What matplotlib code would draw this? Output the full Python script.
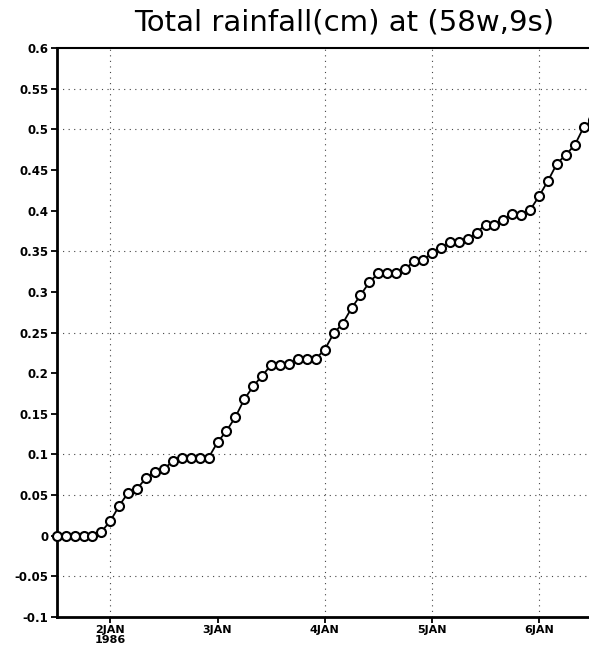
import matplotlib
matplotlib.use("Agg")
import matplotlib.pyplot as plt
import pandas as pd

# 2-hourly accumulated rainfall, starting 1 JAN 1986 12Z
start_time = "1986-01-01 12:00"
rain_cm = [
    0.0, 0.0, 0.0, 0.0, 0.0, 0.005, 0.018, 0.037, 0.053, 0.058,
    0.071, 0.079, 0.082, 0.092, 0.096, 0.096, 0.096, 0.096, 0.115, 0.129,
    0.146, 0.168, 0.184, 0.197, 0.210, 0.210, 0.211, 0.218, 0.218, 0.218,
    0.229, 0.249, 0.261, 0.280, 0.296, 0.312, 0.323, 0.323, 0.323, 0.328,
    0.338, 0.339, 0.348, 0.354, 0.361, 0.362, 0.365, 0.373, 0.383, 0.383,
    0.389, 0.396, 0.395, 0.401, 0.418, 0.437, 0.458, 0.469, 0.481, 0.503,
    0.512,
]
times = pd.date_range(start_time, periods=len(rain_cm), freq="2h")

day_ticks = ["1986-01-02", "1986-01-03", "1986-01-04", "1986-01-05", "1986-01-06"]
day_labels = ["2JAN\n1986", "3JAN", "4JAN", "5JAN", "6JAN"]
y_ticks = [-0.1, -0.05, 0, 0.05, 0.1, 0.15, 0.2, 0.25, 0.3, 0.35, 0.4, 0.45, 0.5, 0.55, 0.6]
y_labels = ["-0.1", "-0.05", "0", "0.05", "0.1", "0.15", "0.2", "0.25", "0.3",
            "0.35", "0.4", "0.45", "0.5", "0.55", "0.6"]
# dotted grid lines that show up in the picture
grid_y = [-0.05, 0.05, 0.1, 0.25, 0.35, 0.5, 0.55]
grid_days = ["1986-01-02", "1986-01-04", "1986-01-05", "1986-01-06"]

fig = plt.figure(figsize=(5.89, 6.56), dpi=100)
ax = fig.add_axes([0.0963, 0.0595, 0.910, 0.867])

for yv in grid_y:
    ax.axhline(yv, color="#444444", linewidth=0.8, linestyle=(0, (1, 4)), zorder=1)
for d in grid_days:
    ax.axvline(pd.Timestamp(d), color="#444444", linewidth=0.8, linestyle=(0, (1, 4)), zorder=1)

ax.plot(times, rain_cm, color="black", linewidth=1.3, marker="o", markersize=6.5,
        markerfacecolor="white", markeredgecolor="black", markeredgewidth=1.5,
        zorder=3, clip_on=False)

ax.set_xlim(pd.Timestamp("1986-01-01 12:00"), pd.Timestamp("1986-01-06 12:00"))
ax.set_ylim(-0.1, 0.6)
ax.set_xticks([pd.Timestamp(d) for d in day_ticks])
ax.set_xticklabels(day_labels, fontsize=8, fontweight="bold", linespacing=0.95)
ax.set_yticks(y_ticks)
ax.set_yticklabels(y_labels, fontsize=8.5, fontweight="bold")
ax.tick_params(direction="out", length=4, width=1.3, pad=2)

for side in ["left", "bottom"]:
    ax.spines[side].set_linewidth(2.0)
ax.spines["top"].set_linewidth(1.5)
ax.spines["right"].set_visible(False)

fig.text(344 / 589, 1 - 23 / 656, "Total rainfall(cm) at (58w,9s)",
         fontsize=21, ha="center", va="center")

fig.savefig("out.png", dpi=100)
